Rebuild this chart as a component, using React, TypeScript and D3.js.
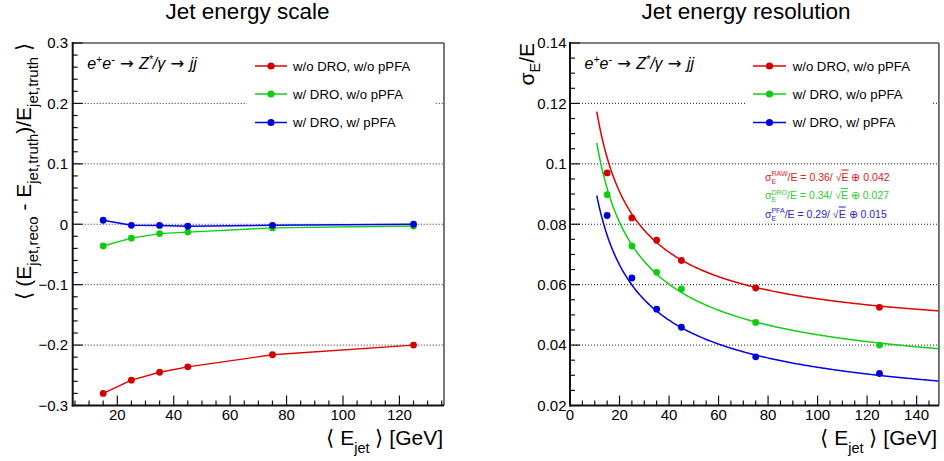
import React from 'react';
import * as d3 from 'd3';

const energies = [15, 25, 35, 45, 75, 125];
const scaleNoDroNoPfa = [-0.28, -0.258, -0.245, -0.236, -0.216, -0.2];
const scaleDroNoPfa = [-0.036, -0.023, -0.0155, -0.013, -0.006, -0.003];
const scaleDroPfa = [0.0066, -0.0017, -0.002, -0.0033, -0.0017, 0.0];
const resNoDroNoPfa = [0.097, 0.0821, 0.0747, 0.068, 0.0589, 0.0525];
const resDroNoPfa = [0.0898, 0.0728, 0.0641, 0.0586, 0.0475, 0.04];
const resDroPfa = [0.0829, 0.0622, 0.0519, 0.0459, 0.0361, 0.0306];
const fitStochastic = [0.36, 0.34, 0.29];
const fitConstant = [0.042, 0.027, 0.015];
const fitTags = ['RAW', 'DRO', 'PFA'];
const fitRange = [10.8, 149];
const seriesNames = ['w/o DRO, w/o pPFA', 'w/ DRO, w/o pPFA', 'w/ DRO, w/ pPFA'];
const lineColors = ['#e00000', '#10d010', '#0000ee'];
const markerColors = ['#d00000', '#10cc10', '#0000dd'];
const fitTextColors = ['#dd2020', '#30cc30', '#2828c8'];
const scaleTicks = [-0.3, -0.2, -0.1, 0, 0.1, 0.2, 0.3];
const resTicks = [0.02, 0.04, 0.06, 0.08, 0.1, 0.12, 0.14];
const energyTicksLeft = [20, 40, 60, 80, 100, 120];
const energyTicksRight = [0, 20, 40, 60, 80, 100, 120, 140];

const FONT = '"Liberation Sans", Arial, Helvetica, sans-serif';
const ARROW_FONT = '"DejaVu Sans", sans-serif';
const TOP = 43;
const BOTTOM = 405.5;

const fmt = (v: number) => {
  const s = d3.format('~g')(Math.abs(v) < 1e-9 ? 0 : v);
  return s.replace('-', '\u2212');
};

function Panel(props: {
  x0: number; x1: number; xDomain: [number, number]; yDomain: [number, number];
  yTicks: number[]; yMinorStep: number; xTicks: number[]; xMinorStep: number;
  title: string; titleX: number; series: number[][]; legendBox: [number, number];
  legendLine: [number, number]; legendText: number; fits?: boolean; yLabel: React.ReactNode;
  xLabelX: number; labelRight: number;
}) {
  const { x0, x1, xDomain, yDomain, yTicks, yMinorStep, xTicks, xMinorStep, series } = props;
  const xs = d3.scaleLinear().domain(xDomain).range([x0, x1]);
  const ys = d3.scaleLinear().domain(yDomain).range([BOTTOM, TOP]);
  const eps = 1e-9;
  const xMinor = d3.range(Math.ceil(xDomain[0] / xMinorStep) * xMinorStep, xDomain[1] + eps, xMinorStep);
  const yMinor = d3.range(yDomain[0], yDomain[1] + eps, yMinorStep);
  const line = d3.line<[number, number]>().x(d => xs(d[0])).y(d => ys(d[1]));
  const legendY = [66, 94, 122.5];
  const fitE = d3.range(fitRange[0], fitRange[1] + eps, 0.5);

  return (
    <g>
      {yTicks.filter(t => t > yDomain[0] + eps && t < yDomain[1] - eps).map(t => (
        <line key={'g' + t} x1={x0} x2={x1} y1={ys(t)} y2={ys(t)} stroke="#222" strokeWidth={1} strokeDasharray="1 2" />
      ))}
      <rect x={props.legendBox[0]} y={50} width={props.legendBox[1] - props.legendBox[0]} height={87} fill="#fff" />
      {props.fits && fitStochastic.map((a, i) => (
        <path key={'f' + i} d={line(fitE.map(e => [e, Math.sqrt((a * a) / e + fitConstant[i] * fitConstant[i])]))!}
          fill="none" stroke={lineColors[i]} strokeWidth={1.5} />
      ))}
      {series.map((vals, i) => (
        <g key={'s' + i}>
          {!props.fits && (
            <path d={line(energies.map((e, j) => [e, vals[j]]))!} fill="none" stroke={lineColors[i]} strokeWidth={1.4} />
          )}
          {energies.map((e, j) => (
            <circle key={j} cx={xs(e)} cy={ys(vals[j])} r={3.4} fill={markerColors[i]} />
          ))}
        </g>
      ))}
      {seriesNames.map((n, i) => (
        <g key={'l' + i}>
          <line x1={props.legendLine[0]} x2={props.legendLine[1]} y1={legendY[i]} y2={legendY[i]} stroke={lineColors[i]} strokeWidth={1.5} />
          <circle cx={(props.legendLine[0] + props.legendLine[1]) / 2} cy={legendY[i]} r={3.6} fill={markerColors[i]} />
          <text x={props.legendText} y={legendY[i] + 4.6} fontSize={13.2} fontFamily={FONT} fill="#000">{n}</text>
        </g>
      ))}
      <text x={x0 + 14.5} y={68.5} fontSize={16} fontFamily={FONT} fontStyle="italic" fill="#000">
        <tspan>e</tspan><tspan dy={-5.5} fontSize={10.5}>+</tspan><tspan dy={5.5}>e</tspan>
        <tspan dy={-5.5} fontSize={10.5}>-</tspan>
        <tspan dy={5.5} fontStyle="normal" fontFamily={ARROW_FONT} fontSize={16.5}> {'\u2192'} </tspan>
        <tspan>Z</tspan><tspan dy={-5.5} fontSize={10.5}>*</tspan><tspan dy={5.5}>/{'\u03b3'}</tspan>
        <tspan fontStyle="normal" fontFamily={ARROW_FONT} fontSize={16.5}> {'\u2192'} </tspan><tspan>jj</tspan>
      </text>
      {props.fits && fitStochastic.map((a, i) => (
        <text key={'ft' + i} x={765} y={180.5 + i * 18.5} fontSize={10.5} fontFamily={FONT} fill={fitTextColors[i]}>
          <tspan>{'\u03c3'}</tspan>
          <tspan dy={3} fontSize={7}>E</tspan>
          <tspan dx={-4.7} dy={-7.5} fontSize={7}>{fitTags[i]}</tspan>
          <tspan dy={4.5}>/E = {a.toFixed(2)}/ {'\u221a'}</tspan>
          <tspan textDecoration="overline" style={{ textDecoration: 'overline' }}>E</tspan>
          <tspan> {'\u2295'} {fitConstant[i].toFixed(3)}</tspan>
        </text>
      ))}
      <line x1={x0} x2={x1} y1={TOP} y2={TOP} stroke="#555" strokeWidth={1.6} />
      <line x1={x1} x2={x1} y1={TOP} y2={BOTTOM} stroke="#555" strokeWidth={1.6} />
      <line x1={x0} x2={x0} y1={TOP - 1} y2={BOTTOM + 1} stroke="#111" strokeWidth={2} />
      <line x1={x0 - 1} x2={x1} y1={BOTTOM} y2={BOTTOM} stroke="#111" strokeWidth={2} />
      {yMinor.map((t, k) => {
        const major = yTicks.some(m => Math.abs(m - t) < eps);
        return <line key={'yt' + k} x1={x0} x2={x0 + (major ? 10 : 5)} y1={ys(t)} y2={ys(t)} stroke="#111" strokeWidth={1.2} />;
      })}
      {xMinor.map((t, k) => {
        const major = xTicks.some(m => Math.abs(m - t) < eps);
        return <line key={'xt' + k} x1={xs(t)} x2={xs(t)} y1={BOTTOM} y2={BOTTOM - (major ? 10 : 5)} stroke="#111" strokeWidth={1.2} />;
      })}
      {yTicks.map(t => (
        <text key={'yl' + t} x={props.labelRight} y={ys(t) + 5.3} textAnchor="end" fontSize={15} fontFamily={FONT} fill="#000">{fmt(t)}</text>
      ))}
      {xTicks.map(t => (
        <text key={'xl' + t} x={xs(t)} y={419.5} textAnchor="middle" fontSize={15} fontFamily={FONT} fill="#000">{fmt(t)}</text>
      ))}
      <text x={props.titleX} y={18.5} textAnchor="middle" fontSize={22.5} fontFamily={FONT} fill="#000">{props.title}</text>
      <text x={props.xLabelX} y={445} textAnchor="end" fontSize={21} fontFamily={FONT} fill="#000">
        <tspan>{'\u27e8'} E</tspan><tspan dy={8} fontSize={14.5}>jet</tspan><tspan dy={-8}> {'\u27e9'} [GeV]</tspan>
      </text>
      {props.yLabel}
    </g>
  );
}

export default function App() {
  return (
    <svg width={944} height={461} style={{ position: 'absolute', left: 0, top: 0, background: '#fff' }}>
      <rect width={944} height={461} fill="#fff" />
      <Panel
        x0={72.7} x1={444} xDomain={[4.2, 135.8]} yDomain={[-0.3, 0.3]}
        yTicks={scaleTicks} yMinorStep={0.02} xTicks={energyTicksLeft} xMinorStep={5}
        title="Jet energy scale" titleX={247.5}
        series={[scaleNoDroNoPfa, scaleDroNoPfa, scaleDroPfa]}
        legendBox={[247, 435]} legendLine={[255, 287]} legendText={293}
        xLabelX={443} labelRight={68}
        yLabel={
          <text transform="translate(31,43) rotate(-90)" textAnchor="end" fontSize={21} fontFamily={FONT} fill="#000">
            <tspan>{'\u27e8'} (E</tspan><tspan dy={7} fontSize={15}>jet,reco</tspan>
            <tspan dy={-7}> - E</tspan><tspan dy={7} fontSize={15}>jet,truth</tspan>
            <tspan dy={-7}>)/E</tspan><tspan dy={7} fontSize={15}>jet,truth</tspan>
            <tspan dy={-7}> {'\u27e9'}</tspan>
          </text>
        }
      />
      <Panel
        x0={570} x1={938.9} xDomain={[0, 149]} yDomain={[0.02, 0.14]}
        yTicks={resTicks} yMinorStep={0.005} xTicks={energyTicksRight} xMinorStep={5}
        title="Jet energy resolution" titleX={746}
        series={[resNoDroNoPfa, resDroNoPfa, resDroPfa]}
        legendBox={[746, 933]} legendLine={[753, 786]} legendText={792.7} fits
        xLabelX={937} labelRight={566.5}
        yLabel={
          <text transform="translate(534,43) rotate(-90)" textAnchor="end" fontSize={21} fontFamily={FONT} fill="#000">
            <tspan>{'\u03c3'}</tspan><tspan dy={6} fontSize={14.5}>E</tspan><tspan dy={-6}>/E</tspan>
          </text>
        }
      />
    </svg>
  );
}
